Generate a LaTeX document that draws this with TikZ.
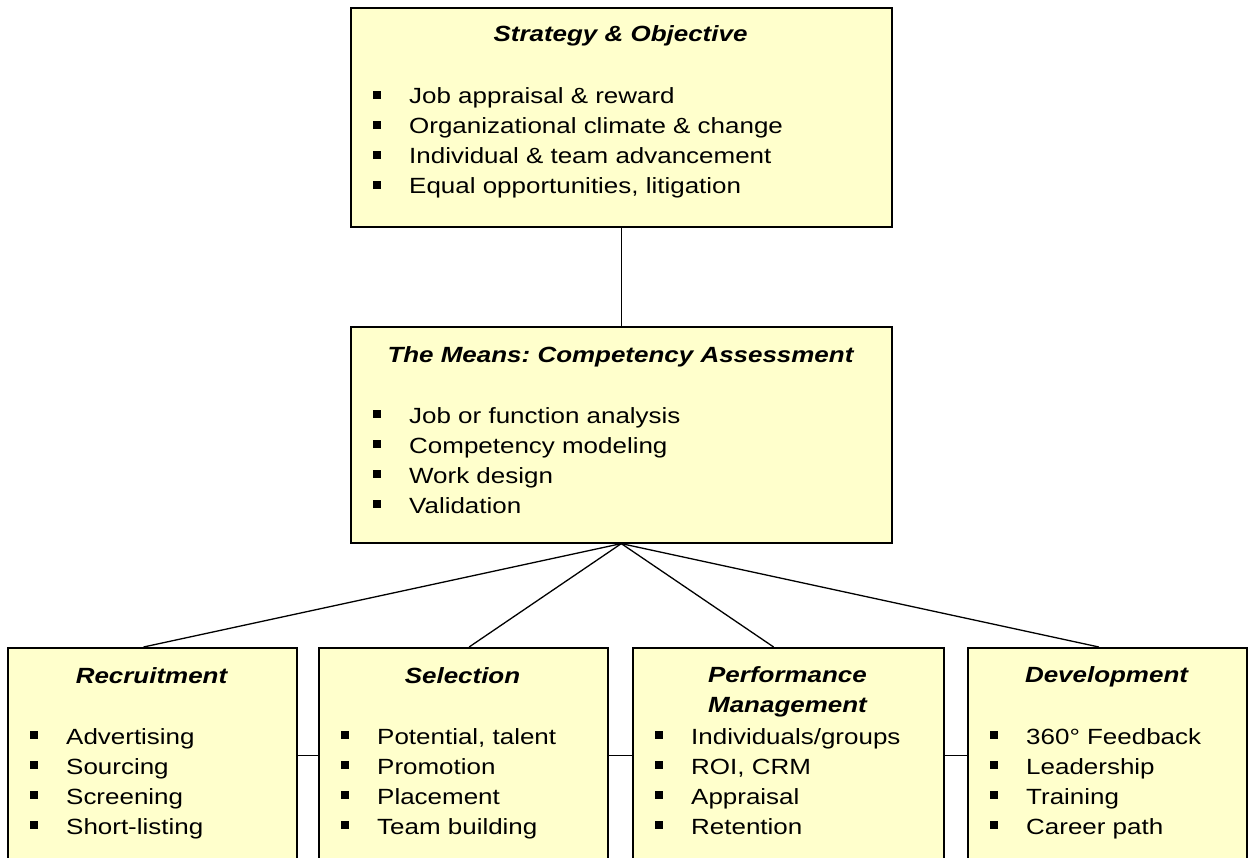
\documentclass[tikz,border=0pt]{standalone}
\usepackage{fontspec}
\setmainfont{Liberation Sans}[FakeStretch=1.18]
\usetikzlibrary{calc}
\definecolor{boxfill}{HTML}{FFFFCC}
\tikzset{
  box/.style={draw=black, line width=1.6pt, fill=boxfill, rectangle, anchor=north west, inner sep=0pt},
  ttl/.style={anchor=base, inner sep=0pt, font=\fontsize{22}{30}\selectfont\bfseries\itshape},
  itm/.style={anchor=base west, inner sep=0pt, font=\fontsize{22}{30}\selectfont},
  conn/.style={draw=black, line width=1.3pt},
}
\newcommand\blist[4]{% #1 prefix, #2 box left x, #3 first baseline, #4 items
  \foreach \t [count=\i from 0] in {#4} {
    \pgfmathsetmacro\yb{#3+30*\i}
    \fill[black] (#2+23,\yb-13) rectangle (#2+31,\yb-5);
    \node[itm] (#1\i) at (#2+59,\yb) {\t};
  }}
\begin{document}
\frenchspacing
\begin{tikzpicture}[x=1pt,y=-1pt]
\useasboundingbox (0,0) rectangle (1252,858);
\clip (0,0) rectangle (1252,858);
\fill[white] (0,0) rectangle (1252,858);
% boxes
\node[box, minimum width=541pt, minimum height=219pt] (top) at (350,7) {};
\node[box, minimum width=541pt, minimum height=216pt] (mid) at (350,326) {};
\node[box, minimum width=289pt, minimum height=216pt] (rec) at (7,647) {};
\node[box, minimum width=289pt, minimum height=216pt] (sel) at (318,647) {};
\node[box, minimum width=311pt, minimum height=216pt] (perf) at (632,647) {};
\node[box, minimum width=279pt, minimum height=216pt] (dev) at (967,647) {};
% connectors
\draw[conn] (top.south) -- (mid.north);
\draw[conn] (mid.south) -- ($(rec.north west)!0.47!(rec.north east)$);
\draw[conn] (mid.south) -- ($(sel.north west)!0.52!(sel.north east)$);
\draw[conn] (mid.south) -- ($(perf.north west)!0.453!(perf.north east)$);
\draw[conn] (mid.south) -- ($(dev.north west)!0.47!(dev.north east)$);
\draw[conn] (rec.east) -- (sel.west);
\draw[conn] (sel.east) -- (perf.west);
\draw[conn] (perf.east) -- (dev.west);
% titles
\node[ttl] (ttop) at (620.5,42) {Strategy \& Objective};
\node[ttl] (tmid) at (620.5,362) {The Means: Competency Assessment};
\node[ttl] (trec) at (151.5,683) {Recruitment};
\node[ttl] (tsel) at (462.5,683) {Selection};
\node[ttl] (tperf) at (787.5,682) {Performance};
\node[ttl] (tperfb) at (787.5,712) {Management};
\node[ttl] (tdev) at (1106.5,682) {Development};
% lists
\blist{ltop}{350}{104}{Job appraisal \& reward, Organizational climate \& change, Individual \& team advancement, {Equal opportunities, litigation}}
\blist{lmid}{350}{423}{Job or function analysis, Competency modeling, Work design, Validation}
\blist{lrec}{7}{744}{Advertising, Sourcing, Screening, Short-listing}
\blist{lsel}{318}{744}{{Potential, talent}, Promotion, Placement, Team building}
\blist{lperf}{632}{744}{Individuals/groups, {ROI, CRM}, Appraisal, Retention}
\blist{ldev}{967}{744}{360° Feedback, Leadership, Training, Career path}
\end{tikzpicture}
\end{document}
